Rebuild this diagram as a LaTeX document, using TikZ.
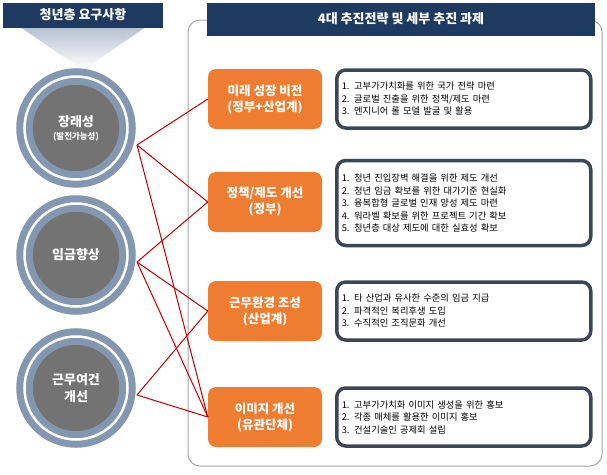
\documentclass[tikz,border=0pt]{standalone}
\usepackage{fontspec}
\setmainfont{Noto Sans CJK KR}
\usetikzlibrary{calc}
\definecolor{navy}{HTML}{1F3A60}
\definecolor{ora}{HTML}{EE7D31}
\definecolor{ring}{HTML}{8497B0}
\definecolor{cgray}{HTML}{737373}
\definecolor{bord}{HTML}{3B4656}
\definecolor{ln}{HTML}{C00000}
\tikzset{
 x=1pt,y=-1pt,
 title/.style={fill=navy,text=white,font=\bfseries\fontsize{13}{15}\selectfont,inner sep=0},
 obox/.style={fill=ora,rounded corners=8pt,text=white,font=\bfseries\fontsize{12.5}{16}\selectfont,align=center,minimum width=114pt,minimum height=60pt,inner sep=0},
 tbox/.style={draw=bord,line width=3.5pt,fill=white,rounded corners=9pt,font=\fontsize{9.3}{12.5}\selectfont,align=left,text width=244pt,minimum width=254pt,inner sep=5pt,anchor=west},
 circ/.style={circle,fill=cgray,draw=ring,line width=7pt,double=white,double distance=2.5pt,minimum size=103pt,text=white,align=center,font=\bfseries\fontsize{13}{17}\selectfont},
 link/.style={draw=ln,line width=1pt}
}
\begin{document}
\begin{tikzpicture}
\useasboundingbox (0,0) rectangle (607,474);
\fill[white] (0,0) rectangle (607,474);
\draw[gray!70,line width=1pt,rounded corners=12pt] (188,20) rectangle (602,466);
\shade[top color=ring!60,bottom color=white] (20,27) -- (146,27) -- (83,70) -- cycle;
\node[title,minimum width=160pt,minimum height=25pt] (lt) at (83,15) {청년층 요구사항};
\node[title,minimum width=388pt,minimum height=33pt] (rt) at (401,19) {4대 추진전략 및 세부 추진 과제};
\node[circ] (c1) at (76,128) {장래성\\[-4pt]{\fontsize{8.5}{10}\selectfont (발전가능성)}};
\node[circ] (c2) at (76,255) {임금향상};
\node[circ] (c3) at (76,388) {근무여건\\개선};
\node[obox] (o1) at (265,99) {미래 성장 비전\\(정부+산업계)};
\node[obox] (o2) at (265,202) {정책/제도 개선\\(정부)};
\node[obox] (o3) at (265,311) {근무환경 조성\\(산업계)};
\node[obox] (o4) at (265,417) {이미지 개선\\(유관단체)};
\node[tbox,minimum height=58pt] (t1) at (335,99) {1. 고부가가치화를 위한 국가 전략 마련\\2. 글로벌 진출을 위한 정책/제도 마련\\3. 엔지니어 롤 모델 발굴 및 활용};
\node[tbox,minimum height=85pt] (t2) at (335,203) {1. 청년 진입장벽 해결을 위한 제도 개선\\2. 청년 임금 확보를 위한 대가기준 현실화\\3. 융복합형 글로벌 인재 양성 제도 마련\\4. 워라벨 확보를 위한 프로젝트 기간 확보\\5. 청년층 대상 제도에 대한 실효성 확보};
\node[tbox,minimum height=58pt] (t3) at (335,311) {1. 타 산업과 유사한 수준의 임금 지급\\2. 파격적인 복리후생 도입\\3. 수직적인 조직문화 개선};
\node[tbox,minimum height=58pt] (t4) at (335,417) {1. 고부가가치화 이미지 생성을 위한 홍보\\2. 각종 매체를 활용한 이미지 홍보\\3. 건설기술인 공제회 설립};
\coordinate (p1) at (137,145);
\coordinate (p2) at (137,262);
\coordinate (p3) at (137,395);
\draw[link] (p1) -- (o1.west);
\draw[link] (p1) -- (o2.west);
\draw[link] (p1) -- (o4.west);
\draw[link] (p2) -- (o2.west);
\draw[link] (p2) -- (o3.west);
\draw[link] (p2) -- (o4.west);
\draw[link] (p3) -- (o3.west);
\draw[link] (p3) -- (o4.west);
\end{tikzpicture}
\end{document}
